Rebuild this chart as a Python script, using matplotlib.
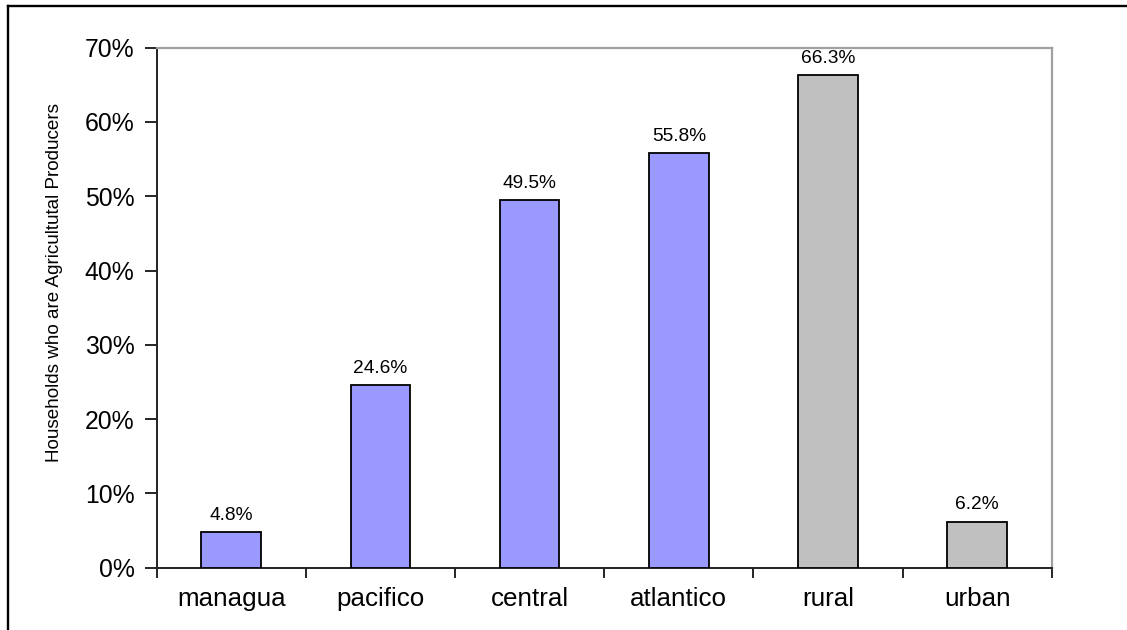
import matplotlib
matplotlib.use("Agg")
import matplotlib.pyplot as plt
from matplotlib.lines import Line2D
from matplotlib.ticker import FuncFormatter, FixedLocator
from matplotlib import font_manager

categories = ["managua", "pacifico", "central", "atlantico", "rural", "urban"]
values = [4.8, 24.6, 49.5, 55.8, 66.3, 6.2]
bar_colors = ["#9999FF", "#9999FF", "#9999FF", "#9999FF", "#C0C0C0", "#C0C0C0"]
ylabel = "Households who are Agricultutal Producers"

installed = {f.name for f in font_manager.fontManager.ttflist}
base_font = "Liberation Sans" if "Liberation Sans" in installed else "DejaVu Sans"
narrow_font = "Liberation Sans Narrow" if "Liberation Sans Narrow" in installed else base_font
plt.rcParams["font.family"] = [base_font, "DejaVu Sans"]

W, H = 1127, 630
fig = plt.figure(figsize=(W / 100, H / 100), dpi=100)
ax = fig.add_axes([156.7 / W, 1 - 567.7 / H, (1051.7 - 156.7) / W, (567.7 - 47.7) / H])

x = list(range(len(categories)))
bars = ax.bar(x, values, width=0.4, color=bar_colors, edgecolor="black", linewidth=1.3, zorder=3)

for xi, v in zip(x, values):
    ax.annotate(f"{v:.1f}%", xy=(xi, v), xytext=(0, 6), textcoords="offset points",
                ha="center", va="bottom", fontsize=13.8, color="black")

ax.set_xlim(-0.5, len(categories) - 0.5)
ax.set_ylim(0, 70)
ax.set_yticks(range(0, 71, 10))
ax.yaxis.set_major_formatter(FuncFormatter(lambda v, p: f"{v:.0f}%"))

# category labels centred on bars, tick marks on category boundaries
ax.set_xticks(x)
ax.set_xticklabels(categories, fontsize=18.7)
ax.tick_params(axis="x", which="major", length=0, pad=14)
ax.xaxis.set_minor_locator(FixedLocator([i - 0.5 for i in range(len(categories) + 1)]))
ax.tick_params(axis="x", which="minor", length=7, width=1.2, color="black", direction="out")
ax.tick_params(axis="y", length=9, width=1.2, color="black", direction="out", pad=7, labelsize=17.8)

for side in ("left", "bottom"):
    ax.spines[side].set_color("#222222")
    ax.spines[side].set_linewidth(1.4)
for side in ("top", "right"):
    ax.spines[side].set_color("#A0A0A0")
    ax.spines[side].set_linewidth(1.6)

fig.text(55 / W, 1 - 283 / H, ylabel, rotation=90, ha="center", va="center",
         fontsize=13.6, family=[narrow_font, "DejaVu Sans"])

# outer frame on the left and top edges
fig.add_artist(Line2D([8 / W, 8 / W], [0, 1 - 6 / H], transform=fig.transFigure,
                      color="black", linewidth=1.7, solid_capstyle="projecting"))
fig.add_artist(Line2D([8 / W, 1], [1 - 6 / H, 1 - 6 / H], transform=fig.transFigure,
                      color="black", linewidth=1.7, solid_capstyle="projecting"))

fig.savefig("out.png", dpi=100, facecolor="white")
